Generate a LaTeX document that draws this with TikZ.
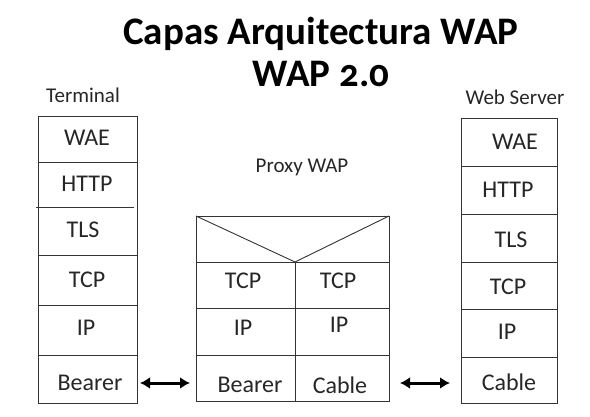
\documentclass[tikz,border=0pt]{standalone}
\usepackage{fontspec}
\setmainfont{Carlito}[Numbers=OldStyle]
\usetikzlibrary{arrows.meta}

\tikzset{
	layer/.style={font=\fontsize{24}{26}\selectfont, text=black!85, inner sep=0pt},
	label/.style={font=\fontsize{21}{23}\selectfont, text=black!85, inner sep=0pt},
	title/.style={font=\fontsize{39}{42}\selectfont\bfseries, text=black, inner sep=0pt, anchor=base},
	box/.style={draw=black!80, line width=0.9pt},
	link/.style={{Latex[length=10pt,width=12pt]}-{Latex[length=10pt,width=12pt]}, line width=3pt, black}
}

\begin{document}
\begin{tikzpicture}[x=1pt,y=-1pt]
	\useasboundingbox (0,0) rectangle (590,417);

	% titulo
	\node[title] (tit1) at (321,45) {Capas Arquitectura WAP};
	\node[title] (tit2) at (321,87) {WAP 2.0};

	\node[label] (term) at (83,95) {Terminal};
	\node[label] (prox) at (302,167) {Proxy WAP};
	\node[label] (serv) at (515,97) {Web Server};

	% terminal
	\draw[box] (38,116) rectangle (137,403);
	\foreach \y in {162,255,305,355}
	{
		\draw[box] (38,\y) -- (137,\y);
	}
	\draw[box] (36,207) -- (134,207);
	\node[layer] (twae) at (87,138) {WAE};
	\node[layer] (thttp) at (87,184) {HTTP};
	\node[layer] (ttls) at (83,230) {TLS};
	\node[layer] (ttcp) at (87,280) {TCP};
	\node[layer] (tip) at (86,328) {IP};
	\node[layer] (tbear) at (90,383) {Bearer};

	% proxy
	\draw[box] (196,216) rectangle (389,401);
	\draw[box] (196,262) -- (389,262);
	\draw[box] (196,308) -- (390,308);
	\draw[box] (196,355) -- (389,355);
	\draw[box] (295,262) -- (295,401);
	\draw[box] (196,216) -- (295,262) -- (389,216);
	\node[layer] (ptcp1) at (243,281) {TCP};
	\node[layer] (ptcp2) at (338,281) {TCP};
	\node[layer] (pip1) at (243,328) {IP};
	\node[layer] (pip2) at (339,325) {IP};
	\node[layer] (pbear) at (250,385) {Bearer};
	\node[layer] (pcab) at (340,385) {Cable};

	% servidor
	\draw[box] (461,118) rectangle (557,403);
	\foreach \y in {166,214,262,309,357}
	{
		\draw[box] (461,\y) -- (557,\y);
	}
	\node[layer] (swae) at (515,142) {WAE};
	\node[layer] (shttp) at (508,190) {HTTP};
	\node[layer] (stls) at (511,240) {TLS};
	\node[layer] (stcp) at (508,287) {TCP};
	\node[layer] (sip) at (507,332) {IP};
	\node[layer] (scab) at (509,382) {Cable};

	% enlaces
	\coordinate (a1) at (140,383);
	\coordinate (a2) at (190,383);
	\coordinate (b1) at (400,383);
	\coordinate (b2) at (450,383);
	\draw[link] (a1) -- (a2);
	\draw[link] (b1) -- (b2);
\end{tikzpicture}
\end{document}
